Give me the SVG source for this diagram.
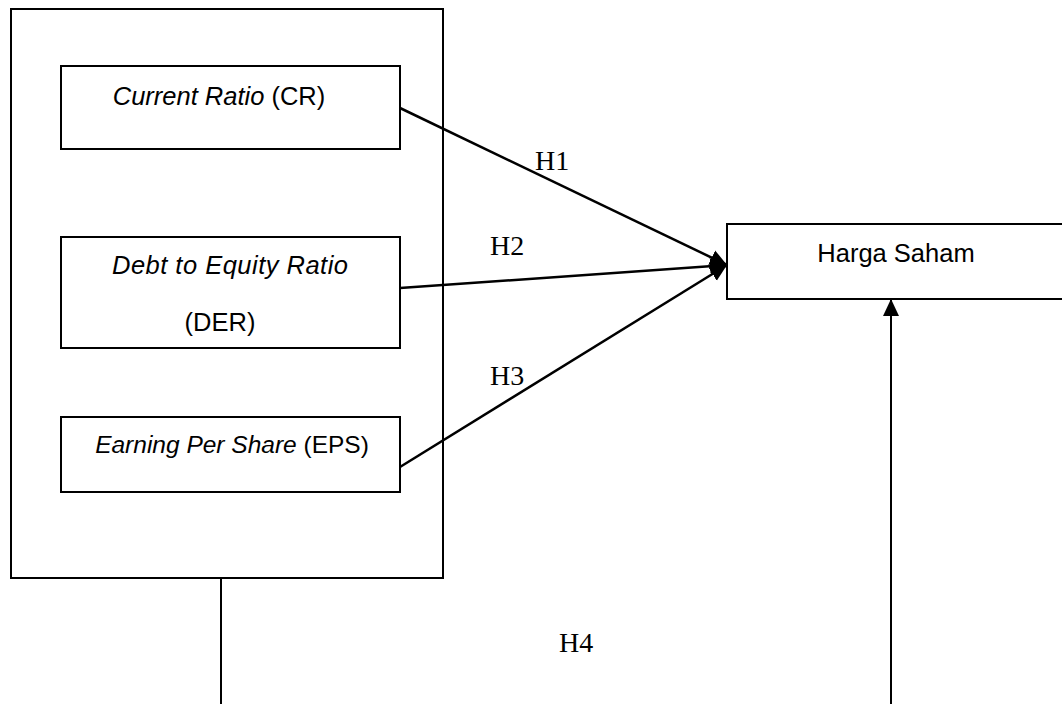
<svg xmlns="http://www.w3.org/2000/svg" width="1062" height="704" viewBox="0 0 1062 704">
<style>
.box{fill:#fff;stroke:#000;stroke-width:2}
.lbl{font-family:"Liberation Sans",Arial,sans-serif;font-size:25.5px;fill:#000}
.it{font-style:italic}
.h{font-family:"Liberation Serif","Times New Roman",serif;font-size:28px;fill:#000}
.con{fill:none;stroke:#000;stroke-width:2.5}
.vl{fill:none;stroke:#000;stroke-width:2}
</style>
<defs>
<marker id="arr" markerUnits="userSpaceOnUse" markerWidth="18" markerHeight="18" refX="17" refY="9" orient="auto">
<path d="M0,1 L17,9 L0,17 Z" fill="#000"/>
</marker>
</defs>
<rect width="1062" height="704" fill="#fff"/>
<g id="outer">
<rect class="box" x="11" y="9" width="432" height="569"/>
</g>
<g id="cr">
<rect class="box" x="61" y="66" width="339" height="83"/>
<text class="lbl" x="219" y="105" text-anchor="middle"><tspan class="it">Current Ratio</tspan> (CR)</text>
</g>
<g id="der">
<rect class="box" x="61" y="237" width="339" height="111"/>
<text class="lbl it" x="112" y="274" textLength="236" lengthAdjust="spacing">Debt to Equity Ratio</text>
<text class="lbl" x="220" y="331" text-anchor="middle">(DER)</text>
</g>
<g id="eps">
<rect class="box" x="61" y="417" width="339" height="75"/>
<text class="lbl" x="232" y="453" text-anchor="middle" style="font-size:24.5px"><tspan class="it">Earning Per Share</tspan> (EPS)</text>
</g>
<g id="harga">
<rect class="box" x="727" y="224" width="345" height="75"/>
<text class="lbl" x="896" y="262" text-anchor="middle">Harga Saham</text>
</g>
<g id="connectors">
<line class="con" x1="400" y1="108" x2="727" y2="265" marker-end="url(#arr)"/>
<line class="con" x1="400" y1="288" x2="727" y2="265" marker-end="url(#arr)"/>
<line class="con" x1="400" y1="467" x2="727" y2="265" marker-end="url(#arr)"/>
<line class="vl" x1="221" y1="578" x2="221" y2="704"/>
<line class="vl" x1="891" y1="704" x2="891" y2="299" marker-end="url(#arr)"/>
</g>
<g id="labels">
<text class="h" x="535" y="170">H1</text>
<text class="h" x="490" y="255">H2</text>
<text class="h" x="490" y="385">H3</text>
<text class="h" x="559" y="652">H4</text>
</g>
</svg>
